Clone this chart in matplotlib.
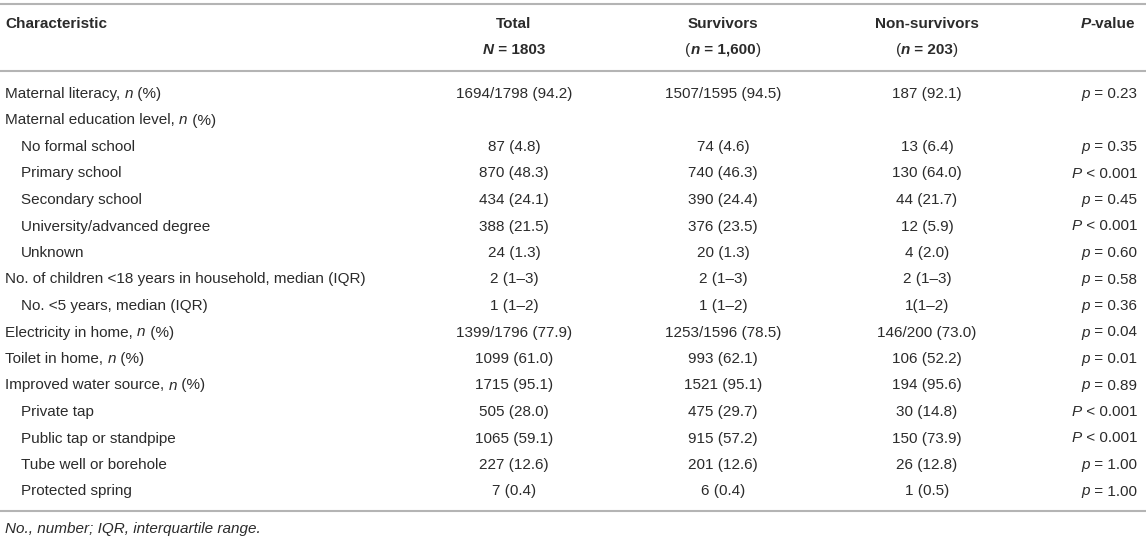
import matplotlib
matplotlib.use('Agg')
import matplotlib.pyplot as plt

# table content, *x* marks italic
labels = [
    "Maternal literacy, *n* (%)",
    "Maternal education level, *n* (%)",
    "No formal school",
    "Primary school",
    "Secondary school",
    "University/advanced degree",
    "Unknown",
    "No. of children <18 years in household, median (IQR)",
    "No. <5 years, median (IQR)",
    "Electricity in home, *n* (%)",
    "Toilet in home, *n* (%)",
    "Improved water source, *n* (%)",
    "Private tap",
    "Public tap or standpipe",
    "Tube well or borehole",
    "Protected spring",
]
indent = [0, 0, 1, 1, 1, 1, 1, 0, 1, 0, 0, 0, 1, 1, 1, 1]
total = ["1694/1798 (94.2)", "", "87 (4.8)", "870 (48.3)", "434 (24.1)", "388 (21.5)",
         "24 (1.3)", "2 (1–3)", "1 (1–2)", "1399/1796 (77.9)", "1099 (61.0)",
         "1715 (95.1)", "505 (28.0)", "1065 (59.1)", "227 (12.6)", "7 (0.4)"]
survivors = ["1507/1595 (94.5)", "", "74 (4.6)", "740 (46.3)", "390 (24.4)", "376 (23.5)",
             "20 (1.3)", "2 (1–3)", "1 (1–2)", "1253/1596 (78.5)", "993 (62.1)",
             "1521 (95.1)", "475 (29.7)", "915 (57.2)", "201 (12.6)", "6 (0.4)"]
non_survivors = ["187 (92.1)", "", "13 (6.4)", "130 (64.0)", "44 (21.7)", "12 (5.9)",
                 "4 (2.0)", "2 (1–3)", "1(1–2)", "146/200 (73.0)", "106 (52.2)",
                 "194 (95.6)", "30 (14.8)", "150 (73.9)", "26 (12.8)", "1 (0.5)"]
pvalues = ["*p* = 0.23", "", "*p* = 0.35", "*P* < 0.001", "*p* = 0.45", "*P* < 0.001",
           "*p* = 0.60", "*p* = 0.58", "*p* = 0.36", "*p* = 0.04", "*p* = 0.01",
           "*p* = 0.89", "*P* < 0.001", "*P* < 0.001", "*p* = 1.00", "*p* = 1.00"]
headers = ["Characteristic", "Total", "Survivors", "Non-survivors", "*P*-value"]
subheaders = ["", "*N* = 1803", "(|*n* = 1,600|)", "(|*n* = 203|)", ""]
footnote = "No., number; IQR, interquartile range."

FONT = "Liberation Sans"
FS = 11
INK = "#2b2b2b"
RULE = "#b4b4b4"

fig = plt.figure(figsize=(11.46, 5.4), dpi=100)
ax = fig.add_axes([0, 0, 1, 1])
ax.set_xlim(0, 1146)
ax.set_ylim(540, 0)
ax.axis('off')
renderer = fig.canvas.get_renderer()


def measure(s, style, weight):
    # pad with x so leading/trailing spaces count
    a = ax.text(0, 0, "x" + s + "x", fontsize=FS, family=FONT, style=style, weight=weight)
    b = ax.text(0, 0, "xx", fontsize=FS, family=FONT, style=style, weight=weight)
    w = a.get_window_extent(renderer).width - b.get_window_extent(renderer).width
    a.remove()
    b.remove()
    return w


def put(x, y, text, ha='left', bold=False):
    # split on '*' for italic and '|' for a bold/normal toggle (header parentheses)
    parts = []
    for chunk_i, chunk in enumerate(text.split('|')):
        chunk_bold = bold if chunk_i % 2 == 0 else bold
        if text.count('|') and chunk_i % 2 == 0:
            chunk_bold = False
        for i, seg in enumerate(chunk.split('*')):
            if seg:
                parts.append((seg, 'italic' if i % 2 else 'normal',
                              'bold' if chunk_bold else 'normal'))
    widths = [measure(s, st, wt) for s, st, wt in parts]
    tot = sum(widths)
    if ha == 'center':
        x0 = x - tot / 2
    elif ha == 'right':
        x0 = x - tot
    else:
        x0 = x
    for (s, st, wt), w in zip(parts, widths):
        ax.text(x0, y, s, fontsize=FS, family=FONT, style=st, weight=wt,
                color=INK, va='center', ha='left')
        x0 += w


col_x = [5, 514, 723, 927, 1137]
col_ha = ['left', 'center', 'center', 'center', 'right']

# rules
for yy in [4, 71, 511]:
    ax.plot([0, 1146], [yy, yy], color=RULE, lw=1.5, solid_capstyle='butt')

# header
for j in range(5):
    hx = col_x[j] - 2 if j == 4 else col_x[j]
    put(hx, 24, headers[j], ha=col_ha[j], bold=True)
    if subheaders[j]:
        put(col_x[j], 50, subheaders[j], ha=col_ha[j], bold=True)

# body
row0, step = 94, 26.5
for i in range(len(labels)):
    y = row0 + i * step
    put(col_x[0] + 16 * indent[i], y, labels[i])
    for j, col in enumerate([total, survivors, non_survivors, pvalues], start=1):
        if col[i]:
            put(col_x[j], y, col[i], ha=col_ha[j])

put(5, 529, "*" + footnote + "*")

fig.savefig("out.png", dpi=100)
